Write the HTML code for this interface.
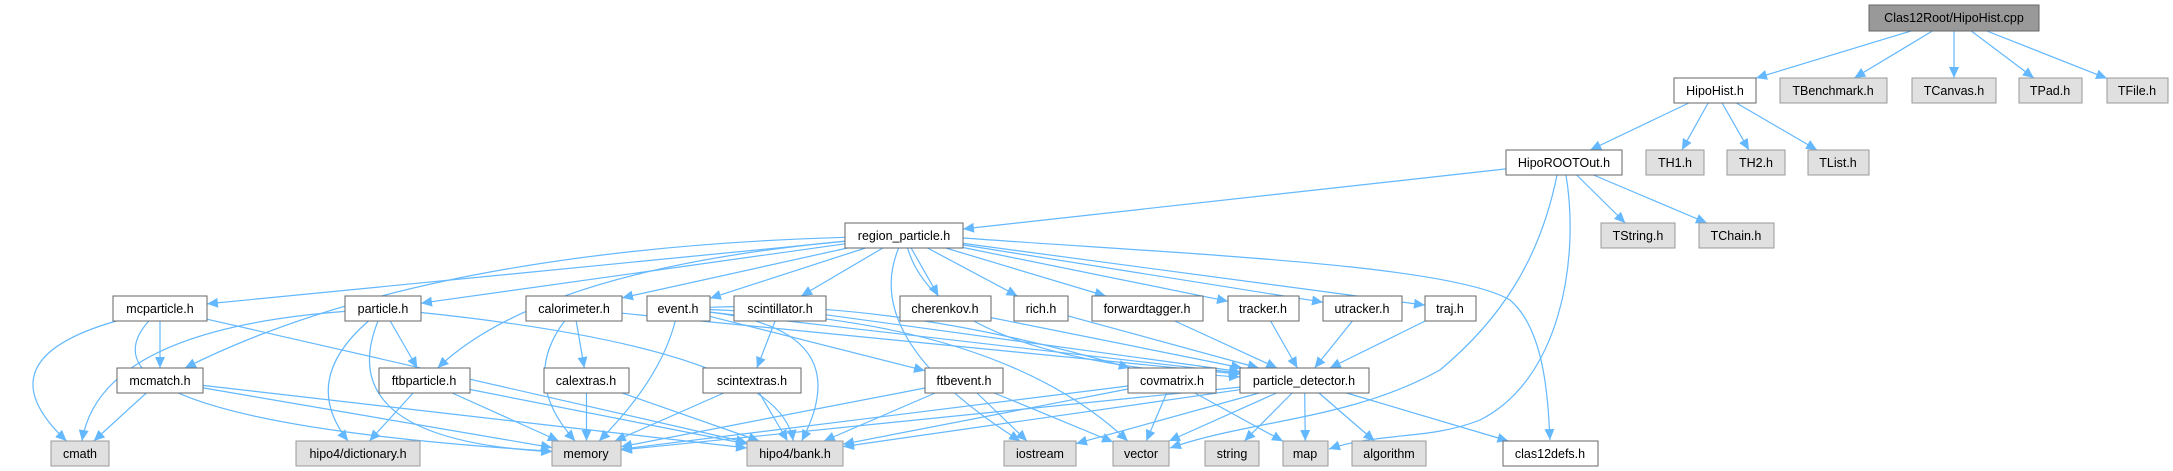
<!DOCTYPE html>
<html><head><meta charset="utf-8"><style>
html,body{margin:0;padding:0;background:#fff;}
svg{display:block;}
text{font-family:"Liberation Sans",Arial,sans-serif;font-size:12.5px;fill:#000;}
</style></head><body>
<svg id="g" width="2173" height="471" viewBox="0 0 2173 471" xmlns="http://www.w3.org/2000/svg">
<defs><marker id="a" markerUnits="userSpaceOnUse" markerWidth="12" markerHeight="10" refX="11" refY="5" orient="auto"><path d="M0,0 L11,5 L0,10 z" fill="#63b8ff"/></marker></defs>
<g id="edges" fill="none" stroke="#63b8ff" stroke-width="1.2"></g>
<g id="nodes">
<rect x="1869" y="5" width="170" height="26" fill="#999" stroke="#666"/><text x="1954" y="22" text-anchor="middle">Clas12Root/HipoHist.cpp</text>
<rect x="1674" y="78" width="82" height="25" fill="#fff" stroke="#666"/><text x="1715" y="95" text-anchor="middle">HipoHist.h</text>
<rect x="1780" y="78" width="107" height="25" fill="#e0e0e0" stroke="#999"/><text x="1833" y="95" text-anchor="middle">TBenchmark.h</text>
<rect x="1912" y="78" width="84" height="25" fill="#e0e0e0" stroke="#999"/><text x="1954" y="95" text-anchor="middle">TCanvas.h</text>
<rect x="2019" y="78" width="63" height="25" fill="#e0e0e0" stroke="#999"/><text x="2050" y="95" text-anchor="middle">TPad.h</text>
<rect x="2107" y="78" width="61" height="25" fill="#e0e0e0" stroke="#999"/><text x="2137" y="95" text-anchor="middle">TFile.h</text>
<rect x="1506" y="150" width="116" height="25" fill="#fff" stroke="#666"/><text x="1564" y="167" text-anchor="middle">HipoROOTOut.h</text>
<rect x="1646" y="150" width="58" height="25" fill="#e0e0e0" stroke="#999"/><text x="1675" y="167" text-anchor="middle">TH1.h</text>
<rect x="1727" y="150" width="58" height="25" fill="#e0e0e0" stroke="#999"/><text x="1756" y="167" text-anchor="middle">TH2.h</text>
<rect x="1808" y="150" width="61" height="25" fill="#e0e0e0" stroke="#999"/><text x="1838" y="167" text-anchor="middle">TList.h</text>
<rect x="845" y="223" width="118" height="25" fill="#fff" stroke="#666"/><text x="904" y="240" text-anchor="middle">region_particle.h</text>
<rect x="1601" y="223" width="74" height="25" fill="#e0e0e0" stroke="#999"/><text x="1638" y="240" text-anchor="middle">TString.h</text>
<rect x="1699" y="223" width="75" height="25" fill="#e0e0e0" stroke="#999"/><text x="1736" y="240" text-anchor="middle">TChain.h</text>
<rect x="113" y="296" width="94" height="25" fill="#fff" stroke="#666"/><text x="160" y="313" text-anchor="middle">mcparticle.h</text>
<rect x="345" y="296" width="76" height="25" fill="#fff" stroke="#666"/><text x="383" y="313" text-anchor="middle">particle.h</text>
<rect x="526" y="296" width="96" height="25" fill="#fff" stroke="#666"/><text x="574" y="313" text-anchor="middle">calorimeter.h</text>
<rect x="647" y="296" width="63" height="25" fill="#fff" stroke="#666"/><text x="678" y="313" text-anchor="middle">event.h</text>
<rect x="734" y="296" width="92" height="25" fill="#fff" stroke="#666"/><text x="780" y="313" text-anchor="middle">scintillator.h</text>
<rect x="900" y="296" width="91" height="25" fill="#fff" stroke="#666"/><text x="945" y="313" text-anchor="middle">cherenkov.h</text>
<rect x="1014" y="296" width="54" height="25" fill="#fff" stroke="#666"/><text x="1041" y="313" text-anchor="middle">rich.h</text>
<rect x="1092" y="296" width="111" height="25" fill="#fff" stroke="#666"/><text x="1147" y="313" text-anchor="middle">forwardtagger.h</text>
<rect x="1228" y="296" width="71" height="25" fill="#fff" stroke="#666"/><text x="1263" y="313" text-anchor="middle">tracker.h</text>
<rect x="1323" y="296" width="79" height="25" fill="#fff" stroke="#666"/><text x="1362" y="313" text-anchor="middle">utracker.h</text>
<rect x="1425" y="296" width="51" height="25" fill="#fff" stroke="#666"/><text x="1450" y="313" text-anchor="middle">traj.h</text>
<rect x="117" y="368" width="86" height="25" fill="#fff" stroke="#666"/><text x="160" y="385" text-anchor="middle">mcmatch.h</text>
<rect x="379" y="368" width="91" height="25" fill="#fff" stroke="#666"/><text x="424" y="385" text-anchor="middle">ftbparticle.h</text>
<rect x="544" y="368" width="85" height="25" fill="#fff" stroke="#666"/><text x="586" y="385" text-anchor="middle">calextras.h</text>
<rect x="703" y="368" width="98" height="25" fill="#fff" stroke="#666"/><text x="752" y="385" text-anchor="middle">scintextras.h</text>
<rect x="925" y="368" width="78" height="25" fill="#fff" stroke="#666"/><text x="964" y="385" text-anchor="middle">ftbevent.h</text>
<rect x="1128" y="368" width="88" height="25" fill="#fff" stroke="#666"/><text x="1172" y="385" text-anchor="middle">covmatrix.h</text>
<rect x="1240" y="368" width="129" height="25" fill="#fff" stroke="#666"/><text x="1304" y="385" text-anchor="middle">particle_detector.h</text>
<rect x="51" y="441" width="58" height="25" fill="#e0e0e0" stroke="#999"/><text x="80" y="458" text-anchor="middle">cmath</text>
<rect x="296" y="441" width="124" height="25" fill="#e0e0e0" stroke="#999"/><text x="358" y="458" text-anchor="middle">hipo4/dictionary.h</text>
<rect x="552" y="441" width="69" height="25" fill="#e0e0e0" stroke="#999"/><text x="586" y="458" text-anchor="middle">memory</text>
<rect x="747" y="441" width="96" height="25" fill="#e0e0e0" stroke="#999"/><text x="795" y="458" text-anchor="middle">hipo4/bank.h</text>
<rect x="1004" y="441" width="72" height="25" fill="#e0e0e0" stroke="#999"/><text x="1040" y="458" text-anchor="middle">iostream</text>
<rect x="1113" y="441" width="56" height="25" fill="#e0e0e0" stroke="#999"/><text x="1141" y="458" text-anchor="middle">vector</text>
<rect x="1205" y="441" width="54" height="25" fill="#e0e0e0" stroke="#999"/><text x="1232" y="458" text-anchor="middle">string</text>
<rect x="1283" y="441" width="45" height="25" fill="#e0e0e0" stroke="#999"/><text x="1305" y="458" text-anchor="middle">map</text>
<rect x="1352" y="441" width="74" height="25" fill="#e0e0e0" stroke="#999"/><text x="1389" y="458" text-anchor="middle">algorithm</text>
<rect x="1503" y="441" width="95" height="25" fill="#fff" stroke="#666"/><text x="1550" y="458" text-anchor="middle">clas12defs.h</text>
</g>
</svg>
<script>
var N={root:[1869,5,2039,31],hh:[1674,78,1756,103],tb:[1780,78,1887,103],tc:[1912,78,1996,103],tp:[2019,78,2082,103],tf:[2107,78,2168,103],
ro:[1506,150,1622,175],th1:[1646,150,1704,175],th2:[1727,150,1785,175],tl:[1808,150,1869,175],
rp:[845,223,963,248],ts:[1601,223,1675,248],tch:[1699,223,1774,248],
mcp:[113,296,207,321],pa:[345,296,421,321],cal:[526,296,622,321],ev:[647,296,710,321],sc:[734,296,826,321],ch:[900,296,991,321],ri:[1014,296,1068,321],fw:[1092,296,1203,321],tr:[1228,296,1299,321],ut:[1323,296,1402,321],tj:[1425,296,1476,321],
mcm:[117,368,203,393],ftp:[379,368,470,393],cx:[544,368,629,393],sx:[703,368,801,393],fe:[925,368,1003,393],cv:[1128,368,1216,393],pd:[1240,368,1369,393],
cm:[51,441,109,466],di:[296,441,420,466],me:[552,441,621,466],bk:[747,441,843,466],io:[1004,441,1076,466],ve:[1113,441,1169,466],st:[1205,441,1259,466],mp:[1283,441,1328,466],al:[1352,441,1426,466],cd:[1503,441,1598,466]};
var E=[["root","hh"],["root","tb"],["root","tc"],["root","tp"],["root","tf"],["hh","ro"],["hh","th1"],["hh","th2"],["hh","tl"],
["ro","rp"],["ro","ts"],["ro","tch"],
["rp","mcp"],["rp","pa"],["rp","cal"],["rp","ev"],["rp","sc"],["rp","ch"],["rp","ri"],["rp","fw"],["rp","tr"],["rp","ut"],["rp","tj"],["rp","mcm",[420,250]],["rp","ftp",[540,270]],["rp","pd",[940,360]],["rp","io",[860,340]],
["mcp","cm",[-20,360]],["mcp","mcm"],["mcp","me",[60,420]],["mcp","bk"],["pa","cm",[100,330]],["pa","di",[300,380]],["pa","me",[330,440]],["pa","ftp"],["pa","bk",[780,350]],
["mcm","cm"],["mcm","me"],["mcm","bk"],["ftp","di"],["ftp","me"],["ftp","bk"],
["cal","me",[520,380]],["cal","cx"],["cal","pd"],["cx","me"],["cx","bk"],
["ev","me",[660,380]],["ev","bk",[860,330]],["ev","fe"],["ev","pd"],["ev","cv",[900,300]],["ev","ve",[1000,320]],
["sc","sx"],["sc","pd"],["sx","me"],["sx","bk"],
["fe","me"],["fe","bk"],["fe","io"],["fe","ve"],
["ch","pd"],["ri","pd"],["fw","pd"],["tr","pd"],["ut","pd"],["tj","pd"],
["cv","me"],["cv","bk"],["cv","ve"],["cv","mp"],
["pd","me"],["pd","bk"],["pd","io"],["pd","ve"],["pd","st"],["pd","mp"],["pd","al"],["pd","cd"]];
function bp(r,dx,dy){var cx=(r[0]+r[2])/2,cy=(r[1]+r[3])/2,hw=(r[2]-r[0])/2,hh=(r[3]-r[1])/2;
var t=Math.min(dx?hw/Math.abs(dx):1e9,dy?hh/Math.abs(dy):1e9);return [cx+dx*t,cy+dy*t];}
var g=document.getElementById("edges"),s="";
E.forEach(function(e){var a=N[e[0]],b=N[e[1]];
var ax=(a[0]+a[2])/2,ay=(a[1]+a[3])/2,bx=(b[0]+b[2])/2,by=(b[1]+b[3])/2;
if(e[2]){var c=e[2];var p=bp(a,c[0]-ax,c[1]-ay),q=bp(b,c[0]-bx,c[1]-by);
s+='<path d="M'+p[0].toFixed(1)+','+p[1].toFixed(1)+' Q'+c[0]+','+c[1]+' '+q[0].toFixed(1)+','+q[1].toFixed(1)+'" marker-end="url(#a)"/>';}
else{var p=bp(a,bx-ax,by-ay),q=bp(b,ax-bx,ay-by);
s+='<path d="M'+p[0].toFixed(1)+','+p[1].toFixed(1)+' L'+q[0].toFixed(1)+','+q[1].toFixed(1)+'" marker-end="url(#a)"/>';}});
s+='<path d="M1557,175 C1540,260 1500,320 1440,370 C1350,420 1250,420 1170,448" marker-end="url(#a)"/>';
s+='<path d="M1566,175 C1580,260 1560,380 1480,420 C1430,440 1380,432 1329,449" marker-end="url(#a)"/>';
s+='<path d="M963,238 C1200,255 1450,265 1510,300 C1545,330 1548,400 1550,440" marker-end="url(#a)"/>';
g.innerHTML=s;
</script>
</body></html>
